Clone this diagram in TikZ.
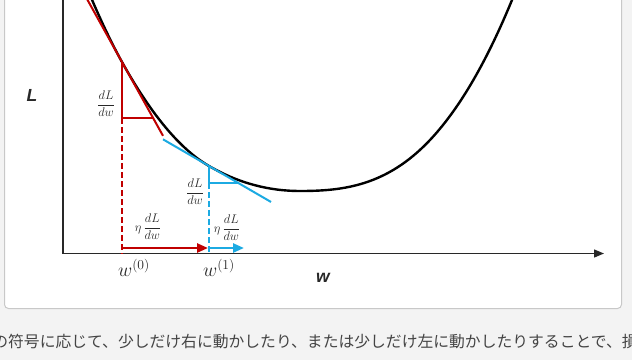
\RequirePackage{fix-cm}
\documentclass[tikz,border=0pt]{standalone}
\usepackage{amsmath}
\usepackage{fontspec}
\setsansfont{Liberation Sans}
\newfontfamily\jpfont{Noto Sans CJK JP}
\usetikzlibrary{arrows.meta}
\definecolor{gradred}{RGB}{192,0,0}
\definecolor{gradcyan}{RGB}{28,170,226}
\definecolor{pagegray}{RGB}{243,243,243}
\definecolor{framegray}{RGB}{200,200,200}
\definecolor{labelgray}{RGB}{40,40,40}
\definecolor{textgray}{RGB}{68,68,68}

\begin{document}
\begin{tikzpicture}[x=1pt,y=-1pt,
    losscurve/.style={line width=2.4pt,black},
    redline/.style={line width=2pt,gradred},
    cyanline/.style={line width=2pt,gradcyan},
    guide/.style={dash pattern=on 6pt off 3pt},
    steparrow/.style={line width=2.4pt,-{Triangle[length=11pt,width=9pt]}},
    mathlbl/.style={text=labelgray,inner sep=0},
    axislbl/.style={text=labelgray,inner sep=0,font=\axisfontsize\sffamily\bfseries\itshape}]
    \pgfmathsetmacro{\axisx}{63}
    \pgfmathsetmacro{\axisy}{253.5}
    \pgfmathsetmacro{\arrowy}{248}
    \pgfmathsetmacro{\redslope}{1.8}
    \pgfmathsetmacro{\cyanslope}{0.58}
    \providecommand{\axisfontsize}{\fontsize{17.5}{20}\selectfont}
    \providecommand{\fracfontsize}{\fontsize{12.5}{14}\selectfont}
    \providecommand{\wfontsize}{\fontsize{19.5}{22}\selectfont}
    \providecommand{\jpfontsize}{\fontsize{15.8}{18}\selectfont}
    \useasboundingbox (0,0) rectangle (632,360);
    \clip (0,0) rectangle (632,360);
    \fill[pagegray] (0,0) rectangle (632,360);
    \draw[framegray,fill=white,line width=1pt,rounded corners=4pt] (4.5,-10) rectangle (621.5,308.5);
    \coordinate (o) at (\axisx,\axisy);
    \coordinate (ytop) at (\axisx,-5);
    \coordinate (xend) at (604,\axisy);
    \coordinate (p0) at (122,62);
    \coordinate (p1) at (209,166);
    \coordinate (pmin) at (300,191);
    \coordinate (r0) at (122,118);
    \coordinate (c0) at (209,183);
    \coordinate (a0) at (122,\arrowy);
    \coordinate (a1) at (209,\arrowy);
    \coordinate (a2) at (244,\arrowy);
    % axes
    \draw[line width=1.4pt,labelgray] (ytop) -- (o);
    \draw[line width=1.4pt,labelgray,-{Triangle[length=10pt,width=8pt]}] (o) -- (xend);
    \draw[losscurve] (87,-12) .. controls (98.7,16) and (110.3,41) .. (p0)
        .. controls (151,114.2) and (180,149.2) .. (p1)
        .. controls (239.3,183.6) and (269.7,191) .. (pmin)
        .. controls (343.3,191) and (386.7,185.9) .. (430,140)
        .. controls (457.3,111) and (484.7,66.4) .. (512,0) -- (522,-24.3);
    % first step
    \draw[redline] (p0) ++(-40,-40*\redslope) -- ++(81,81*\redslope);
    \draw[redline] (p0) -- (r0) -- (153,118);
    \draw[redline,guide] (r0) -- (r0 |- o);
    \draw[steparrow,gradred] (a0) -- (208,\arrowy);
    % second step
    \draw[cyanline] (p1) ++(-46,-46*\cyanslope) -- ++(108,108*\cyanslope);
    \draw[cyanline] (p1) -- (c0) -- (238,183);
    \draw[cyanline,guide] (c0) -- (c0 |- o);
    \draw[steparrow,gradcyan] (a1) -- (a2);
    \node[mathlbl] (dlred) at (106,104) {\fracfontsize$\dfrac{dL}{dw}$};
    \node[mathlbl] (dlcyan) at (195,192) {\fracfontsize$\dfrac{dL}{dw}$};
    \node[mathlbl] (stepred) at (148,227) {\fracfontsize$\eta\,\dfrac{dL}{dw}$};
    \node[mathlbl] (stepcyan) at (227,228) {\fracfontsize$\eta\,\dfrac{dL}{dw}$};
    \node[mathlbl] (w0) at (134,268) {\wfontsize$w^{(0)}$};
    \node[mathlbl] (w1) at (219,268) {\wfontsize$w^{(1)}$};
    \node[axislbl] (lossname) at (32,95) {L};
    \node[axislbl] (weightname) at (323,278) {w};
    \node[anchor=base west,inner sep=0,text=textgray] (caption) at (-7.8,347)
        {\jpfontsize\jpfont の符号に応じて、少しだけ右に動かしたり、または少しだけ左に動かしたりすることで、損失};
\end{tikzpicture}
\end{document}
